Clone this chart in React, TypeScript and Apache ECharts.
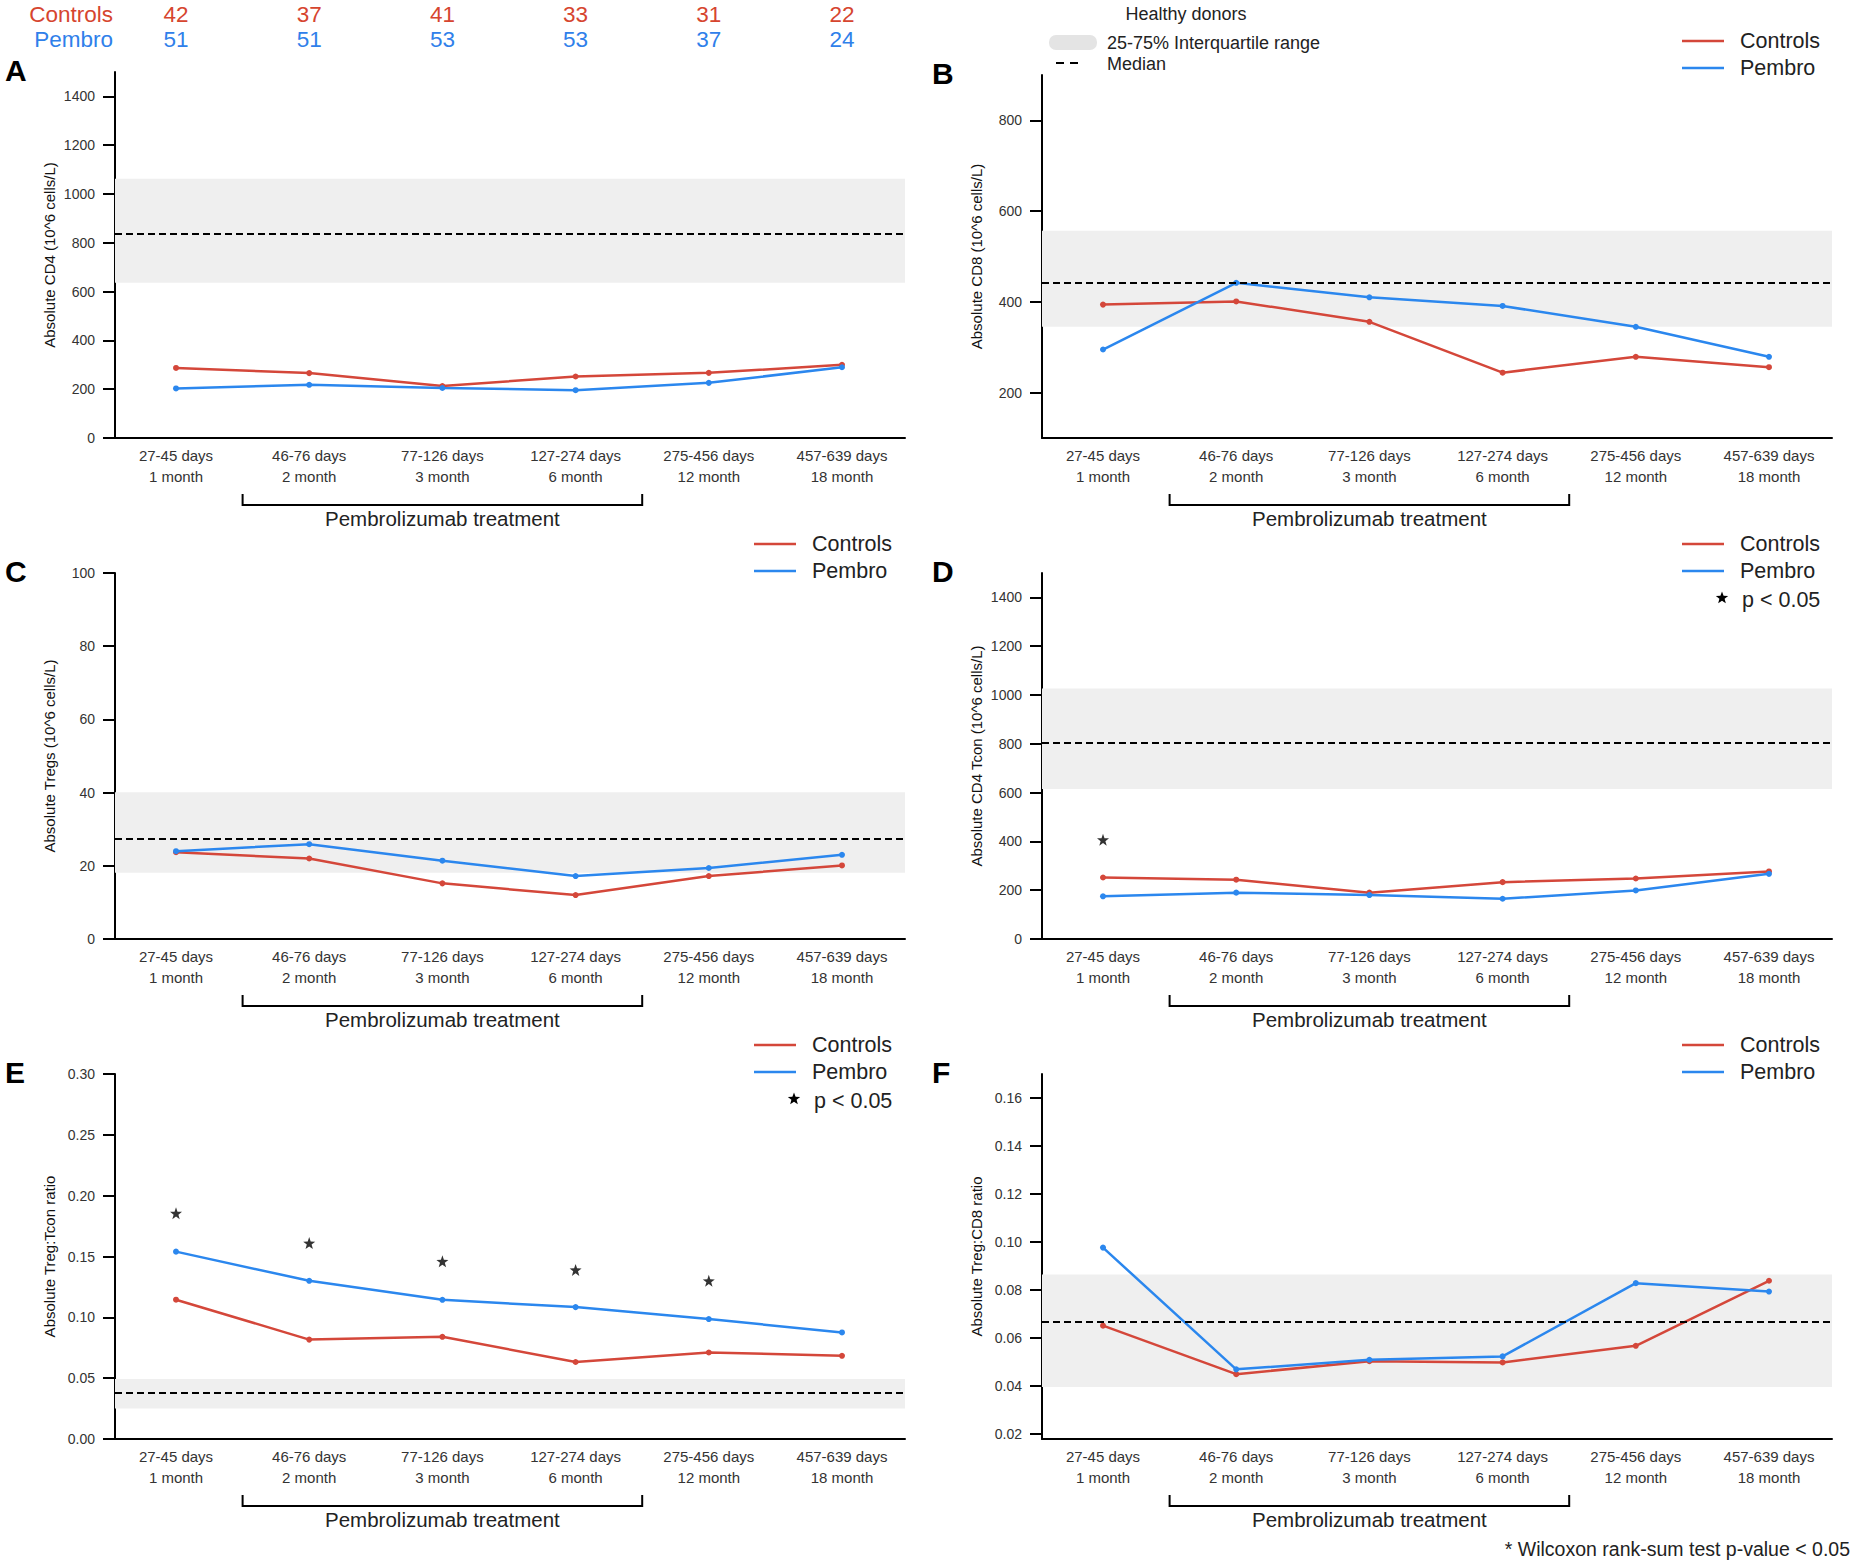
import React, { useEffect, useRef } from "react";
import * as echarts from "echarts";

// ---------- DATA ----------
const dayRanges = ["27-45 days", "46-76 days", "77-126 days", "127-274 days", "275-456 days", "457-639 days"];
const monthLabels = ["1 month", "2 month", "3 month", "6 month", "12 month", "18 month"];
const nControls = [42, 37, 41, 33, 31, 22];
const nPembro = [51, 51, 53, 53, 37, 24];

// A: absolute CD4
const cd4Controls = [287, 266, 213, 252, 267, 300];
const cd4Pembro = [203, 218, 205, 196, 226, 290];
const cd4Iqr = [636, 1062];
const cd4Median = 838;
const cd4Ticks = [0, 200, 400, 600, 800, 1000, 1200, 1400];

// B: absolute CD8
const cd8Controls = [394, 401, 356, 244, 279, 256];
const cd8Pembro = [295, 442, 410, 391, 345, 279];
const cd8Iqr = [345, 557];
const cd8Median = 442;
const cd8Ticks = [200, 400, 600, 800];

// C: absolute Tregs
const tregControls = [23.7, 22.0, 15.2, 12.0, 17.2, 20.1];
const tregPembro = [24.0, 25.9, 21.4, 17.2, 19.4, 23.0];
const tregIqr = [18.1, 40.1];
const tregMedian = 27.4;
const tregTicks = [0, 20, 40, 60, 80, 100];

// D: absolute CD4 Tcon
const tconControls = [252, 243, 190, 233, 248, 277];
const tconPembro = [175, 190, 180, 165, 199, 267];
const tconIqr = [615, 1027];
const tconMedian = 804;
const tconTicks = [0, 200, 400, 600, 800, 1000, 1200, 1400];
const tconStars = [407, null, null, null, null, null];

// E: Treg:Tcon ratio
const tregTconControls = [0.1145, 0.0817, 0.0840, 0.0633, 0.0711, 0.0684];
const tregTconPembro = [0.154, 0.130, 0.1144, 0.1084, 0.0986, 0.0876];
const tregTconIqr = [0.0251, 0.0493];
const tregTconMedian = 0.0378;
const tregTconTicks = [0, 0.05, 0.1, 0.15, 0.2, 0.25, 0.3];
const tregTconStars = [0.1856, 0.161, 0.146, 0.139, 0.130, null];

// F: Treg:CD8 ratio
const tregCd8Controls = [0.0652, 0.0450, 0.0504, 0.0499, 0.0568, 0.0839];
const tregCd8Pembro = [0.0977, 0.0470, 0.0510, 0.0524, 0.0829, 0.0794];
const tregCd8Iqr = [0.0397, 0.0865];
const tregCd8Median = 0.0670;
const tregCd8Ticks = [0.02, 0.04, 0.06, 0.08, 0.1, 0.12, 0.14, 0.16];

// ---------- STYLE ----------
const FONT = "'Liberation Sans', Arial, Helvetica, sans-serif";
const RED = "#d4473a";
const BLUE = "#2b87ee";
const TEXT = "#222";
const X_MIN = -0.458;
const X_MAX = 5.473;
const X_TICKS = [0, 1, 2, 3, 4, 5];

const panels = [
  { letter: "A", left: 115, top: 72, height: 366, min: 0, max: 1500, ticks: cd4Ticks, dec: 0,
    name: "Absolute CD4 (10^6 cells/L)", controls: cd4Controls, pembro: cd4Pembro, iqr: cd4Iqr, median: cd4Median, stars: null },
  { letter: "B", left: 1042, top: 75, height: 363, min: 100, max: 900, ticks: cd8Ticks, dec: 0,
    name: "Absolute CD8 (10^6 cells/L)", controls: cd8Controls, pembro: cd8Pembro, iqr: cd8Iqr, median: cd8Median, stars: null },
  { letter: "C", left: 115, top: 573, height: 366, min: 0, max: 100, ticks: tregTicks, dec: 0,
    name: "Absolute Tregs (10^6 cells/L)", controls: tregControls, pembro: tregPembro, iqr: tregIqr, median: tregMedian, stars: null },
  { letter: "D", left: 1042, top: 573, height: 366, min: 0, max: 1500, ticks: tconTicks, dec: 0,
    name: "Absolute CD4 Tcon (10^6 cells/L)", controls: tconControls, pembro: tconPembro, iqr: tconIqr, median: tconMedian, stars: tconStars },
  { letter: "E", left: 115, top: 1074, height: 365, min: 0, max: 0.3, ticks: tregTconTicks, dec: 2,
    name: "Absolute Treg:Tcon ratio", controls: tregTconControls, pembro: tregTconPembro, iqr: tregTconIqr, median: tregTconMedian, stars: tregTconStars },
  { letter: "F", left: 1042, top: 1074, height: 365, min: 0.018, max: 0.17, ticks: tregCd8Ticks, dec: 2,
    name: "Absolute Treg:CD8 ratio", controls: tregCd8Controls, pembro: tregCd8Pembro, iqr: tregCd8Iqr, median: tregCd8Median, stars: null },
];

const STAR_PATH =
  "path://M0,-10L2.35,-3.24L9.51,-3.09L3.8,1.24L5.88,8.09L0,4L-5.88,8.09L-3.8,1.24L-9.51,-3.09L-2.35,-3.24Z";

function starPoints(cx: number, cy: number, r: number) {
  const pts: number[][] = [];
  for (let i = 0; i < 10; i++) {
    const rr = i % 2 === 0 ? r : r * 0.42;
    const a = -Math.PI / 2 + (i * Math.PI) / 5;
    pts.push([cx + rr * Math.cos(a), cy + rr * Math.sin(a)]);
  }
  return pts;
}

function txt(text: string, x: number, y: number, opts: any = {}) {
  return {
    type: "text",
    x,
    y,
    silent: true,
    style: {
      text,
      fill: opts.fill || TEXT,
      fontSize: opts.size || 16,
      fontFamily: FONT,
      fontWeight: opts.weight || "normal",
      align: opts.align || "left",
      textAlign: opts.align || "left",
      verticalAlign: "middle",
      textVerticalAlign: "middle",
    },
  };
}

const toPairs = (arr: (number | null)[]) =>
  arr.map((v, k) => (v === null ? null : [k, v])).filter((d) => d !== null);

export default function App() {
  const ref = useRef<HTMLDivElement>(null);

  useEffect(() => {
    if (!ref.current) return;
    const chart = echarts.init(ref.current, undefined, { renderer: "svg" });

    const grid: any[] = [];
    const xAxis: any[] = [];
    const yAxis: any[] = [];
    const series: any[] = [];

    panels.forEach((p, i) => {
      grid.push({ left: p.left, top: p.top, width: 790, height: p.height, containLabel: false });
      xAxis.push({
        type: "value",
        gridIndex: i,
        min: X_MIN,
        max: X_MAX,
        axisLine: { show: true, onZero: false, lineStyle: { color: "#000", width: 2 } },
        axisTick: { show: false },
        axisLabel: {
          fontSize: 15,
          color: "#333",
          fontFamily: FONT,
          lineHeight: 21,
          margin: 7,
          customValues: X_TICKS,
          formatter: (v: number) => {
            const k = Math.round(v);
            return dayRanges[k] + "\n" + monthLabels[k];
          },
        },
        splitLine: { show: false },
      });
      yAxis.push({
        type: "value",
        gridIndex: i,
        min: p.min,
        max: p.max,
        name: p.name,
        nameLocation: "middle",
        nameGap: 58,
        nameTextStyle: { fontSize: 15, color: "#111", fontFamily: FONT },
        axisLine: { show: true, onZero: false, lineStyle: { color: "#000", width: 2 } },
        axisTick: { show: true, length: 12, customValues: p.ticks, lineStyle: { color: "#000", width: 2 } },
        axisLabel: {
          fontSize: 14,
          color: "#333",
          fontFamily: FONT,
          margin: 20,
          customValues: p.ticks,
          formatter: (v: number) => v.toFixed(p.dec),
        },
        splitLine: { show: false },
      });
      // healthy donor band + median
      series.push({
        type: "line",
        xAxisIndex: i,
        yAxisIndex: i,
        data: [],
        z: 1,
        silent: true,
        markArea: {
          silent: true,
          itemStyle: { color: "#efefef" },
          data: [[{ yAxis: p.iqr[0] }, { yAxis: p.iqr[1] }]],
        },
        markLine: {
          silent: true,
          precision: 5,
          symbol: ["none", "none"],
          label: { show: false },
          lineStyle: { color: "#000", width: 2, type: [7, 4] },
          data: [{ yAxis: p.median }],
        },
      });
      series.push({
        name: "Controls",
        type: "line",
        xAxisIndex: i,
        yAxisIndex: i,
        data: toPairs(p.controls),
        z: 3,
        color: RED,
        symbol: "circle",
        symbolSize: 6,
        lineStyle: { width: 2.5, color: RED },
        itemStyle: { color: RED },
      });
      series.push({
        name: "Pembro",
        type: "line",
        xAxisIndex: i,
        yAxisIndex: i,
        data: toPairs(p.pembro),
        z: 4,
        color: BLUE,
        symbol: "circle",
        symbolSize: 6,
        lineStyle: { width: 2.5, color: BLUE },
        itemStyle: { color: BLUE },
      });
      if (p.stars) {
        series.push({
          name: "p < 0.05",
          type: "scatter",
          xAxisIndex: i,
          yAxisIndex: i,
          data: toPairs(p.stars),
          z: 5,
          symbol: STAR_PATH,
          symbolSize: 12,
          itemStyle: { color: "#000" },
        });
      }
    });

    chart.setOption({
      animation: false,
      backgroundColor: "#fff",
      textStyle: { fontFamily: FONT },
      grid,
      xAxis,
      yAxis,
      series,
    });

    // annotations computed from the axes
    const graphic: any[] = [];
    panels.forEach((p, i) => {
      const cx = (k: number) => chart.convertToPixel({ xAxisIndex: i }, k) as number;
      const axisY = chart.convertToPixel({ yAxisIndex: i }, p.min) as number;
      const x1 = cx(0.5);
      const x2 = cx(3.5);
      const by = axisY + 67;
      graphic.push({
        type: "polyline",
        silent: true,
        shape: { points: [[x1, by - 11], [x1, by], [x2, by], [x2, by - 11]] },
        style: { stroke: "#000", lineWidth: 2, fill: null },
      });
      graphic.push(txt("Pembrolizumab treatment", (x1 + x2) / 2, axisY + 80, { size: 20.5, align: "center" }));
      // panel letter
      graphic.push(txt(p.letter, p.left - 110, p.top - 2, { size: 30, weight: "bold", fill: "#000" }));
    });

    // sample size counts (aligned to panel A's time points)
    graphic.push(txt("Controls", 113, 14, { size: 22.5, align: "right", fill: "#d6452f" }));
    graphic.push(txt("Pembro", 113, 39, { size: 22.5, align: "right", fill: "#2f80ea" }));
    nControls.forEach((n, k) => {
      const x = chart.convertToPixel({ xAxisIndex: 0 }, k) as number;
      graphic.push(txt(String(n), x, 14, { size: 22.5, align: "center", fill: "#d6452f" }));
      graphic.push(txt(String(nPembro[k]), x, 39, { size: 22.5, align: "center", fill: "#2f80ea" }));
    });

    // Healthy donors legend
    graphic.push(txt("Healthy donors", 1186, 14, { size: 18, align: "center" }));
    graphic.push({
      type: "rect",
      silent: true,
      shape: { x: 1049, y: 35, width: 48, height: 15, r: 7 },
      style: { fill: "#e4e4e4" },
    });
    graphic.push(txt("25-75% Interquartile range", 1107, 43, { size: 18 }));
    graphic.push({
      type: "line",
      silent: true,
      shape: { x1: 1056, y1: 63, x2: 1082, y2: 63 },
      style: { stroke: "#000", lineWidth: 2, lineDash: [8, 6] },
    });
    graphic.push(txt("Median", 1107, 64, { size: 18 }));

    // series legends
    const legendRows = (lx: number, ly: number, withStar: boolean) => {
      graphic.push({ type: "line", silent: true, shape: { x1: lx, y1: ly, x2: lx + 42, y2: ly }, style: { stroke: RED, lineWidth: 2.5 } });
      graphic.push(txt("Controls", lx + 58, ly, { size: 21.5 }));
      graphic.push({ type: "line", silent: true, shape: { x1: lx, y1: ly + 27, x2: lx + 42, y2: ly + 27 }, style: { stroke: BLUE, lineWidth: 2.5 } });
      graphic.push(txt("Pembro", lx + 58, ly + 27, { size: 21.5 }));
      if (withStar) {
        graphic.push({ type: "polygon", silent: true, shape: { points: starPoints(lx + 40, ly + 54, 6.5) }, style: { fill: "#000" } });
        graphic.push(txt("p < 0.05", lx + 60, ly + 56, { size: 21.5 }));
      }
    };
    legendRows(1682, 41, false);
    legendRows(754, 544, false);
    legendRows(1682, 544, true);
    legendRows(754, 1045, true);
    legendRows(1682, 1045, false);

    graphic.push(txt("* Wilcoxon rank-sum test p-value < 0.05", 1850, 1549, { size: 19.5, align: "right" }));

    chart.setOption({ graphic });

    return () => chart.dispose();
  }, []);

  return (
    <div
      ref={ref}
      style={{ position: "absolute", left: 0, top: 0, width: 1854, height: 1563, background: "#fff" }}
    />
  );
}
